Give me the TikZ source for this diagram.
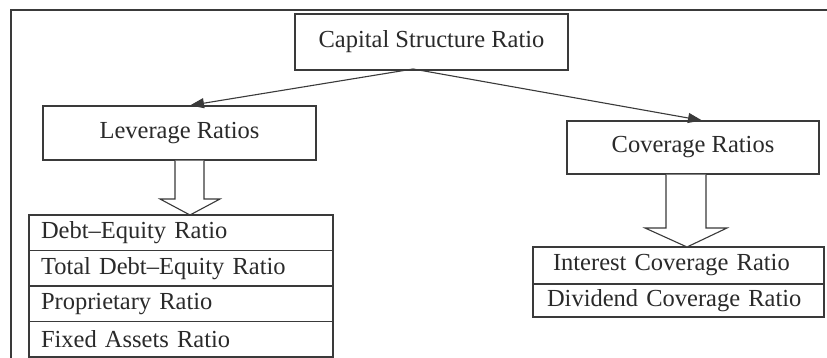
\documentclass[tikz,border=0pt]{standalone}
\usepackage{fontspec}
\setmainfont{Liberation Serif}
\usetikzlibrary{arrows.meta,calc}
\definecolor{ink}{HTML}{2A2A2A}
\definecolor{rule}{HTML}{3A3A3A}
\tikzset{
  box/.style={draw=rule, line width=1.1pt, rectangle, inner sep=0pt,
    font=\fontsize{24.5}{27}\selectfont, text=ink},
  listrow/.style={draw=rule, line width=1.8pt, rectangle, anchor=north west,
    outer sep=0pt, inner ysep=0pt, inner xsep=12pt, align=left,
    font=\fontsize{24.5}{27}\selectfont, text=ink},
  link/.style={draw=rule, line width=1.1pt, -{Triangle[length=14pt,width=10pt]}},
  blockarrow/.style={draw=rule, line width=1.1pt, fill=white, line join=miter},
  frame/.style={draw=rule, line width=1.6pt}
}
\begin{document}
\begin{tikzpicture}[x=1pt,y=-1pt]
\useasboundingbox (0,0) rectangle (827,358);
\clip (0,0) rectangle (827,358);
\fill[white] (0,0) rectangle (827,358);
\draw[frame] (11,10) rectangle (845,380);

% top level and the two groups
\node[box, minimum width=273, minimum height=56] (cap) at (431.5,42) {Capital Structure Ratio};
\node[box, minimum width=273, minimum height=54] (lev) at (179.5,133) {Leverage Ratios};
\node[box, minimum width=252, minimum height=53] (cov) at (693,147.5) {Coverage Ratios};

\coordinate (split) at (413,69);
\draw[link] (split) -- (lev.north -| 190,0);
\draw[link] (split) -- (cov.north -| 702,0);

% leverage ratio list
\node[listrow, text width=280, minimum height=35.5] (r1) at (29,215) {Debt--Equity Ratio};
\node[listrow, text width=280, minimum height=35.5] (r2) at (r1.south west) {Total Debt--Equity Ratio};
\node[listrow, text width=280, minimum height=35.5] (r3) at (r2.south west) {Proprietary Ratio};
\node[listrow, text width=280, minimum height=35.5] (r4) at (r3.south west) {Fixed Assets Ratio};

% coverage ratio list
\node[listrow, inner xsep=20pt, text width=251, minimum height=37] (c1) at (533,247) {Interest Coverage Ratio};
\node[listrow, inner xsep=14pt, text width=263, minimum height=33] (c2) at (c1.south west) {Dividend Coverage Ratio};

% hollow block arrows
\draw[blockarrow] (lev.south -| 175,0) -- (175,199) -- (160,199) -- (r1.north -| 190,0)
  -- (220,199) -- (204,199) -- (lev.south -| 204,0);
\draw[blockarrow] (cov.south -| 666,0) -- (666,228) -- (645,228) -- (c1.north -| 687,0)
  -- (727,228) -- (706,228) -- (cov.south -| 706,0);
\end{tikzpicture}
\end{document}
